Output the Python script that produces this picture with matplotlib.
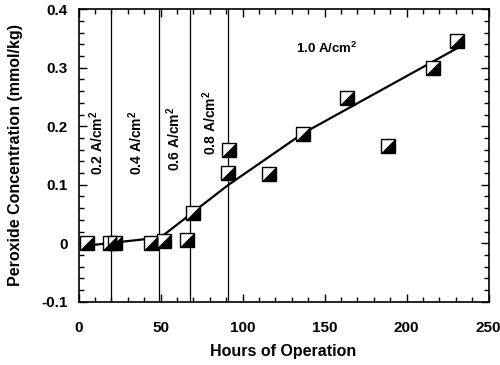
import matplotlib
matplotlib.use("Agg")
import matplotlib.pyplot as plt
from matplotlib.ticker import MultipleLocator

# measured points
hours = [5, 19, 22, 44, 52, 66, 70, 91, 92, 116, 137, 164, 189, 216, 231]
peroxide = [0.0, 0.0, 0.0, 0.0, 0.004, 0.005, 0.052, 0.12, 0.16, 0.118,
            0.187, 0.248, 0.167, 0.3, 0.345]

# fitted trend line
fit_hours = [5, 50, 91, 137, 232]
fit_peroxide = [-0.004, 0.01, 0.099, 0.188, 0.335]

# current density changes
step_hours = [20, 49, 68, 91]
step_labels = ["0.2", "0.4", "0.6", "0.8"]
label_x = [11, 35, 58, 80]
label_y = [0.172, 0.171, 0.179, 0.206]

plt.rcParams['font.family'] = ['Liberation Sans', 'DejaVu Sans']
plt.rcParams['font.weight'] = 'bold'
plt.rcParams['mathtext.fontset'] = 'custom'
plt.rcParams['mathtext.bf'] = 'Liberation Sans:bold'
plt.rcParams['mathtext.rm'] = 'Liberation Sans:bold'

fig = plt.figure(figsize=(5.0, 3.65), dpi=100)
ax = fig.add_axes([0.157, 0.173, 0.82, 0.802])

for xv in step_hours:
    ax.axvline(xv, color="black", linewidth=0.9, zorder=1)

ax.plot(fit_hours, fit_peroxide, color="black", linewidth=1.6, zorder=2)

tri = [(-1, -1), (1, -1), (1, 1), (-1, -1)]
ax.plot(hours, peroxide, linestyle="none", marker="s", markersize=9.5,
        mfc="white", mec="black", mew=1.0, zorder=3)
ax.plot(hours, peroxide, linestyle="none", marker=tri, markersize=9.5,
        mfc="black", mec="black", mew=0.5, zorder=4)

for lab, tx, ty in zip(step_labels, label_x, label_y):
    ax.text(tx, ty, lab + r" A/cm$^\mathbf{2}$", rotation=90, ha="center",
            va="center", fontsize=10, fontweight="bold")
ax.text(132.5, 0.333, r"1.0 A/cm$^\mathbf{2}$", ha="left", va="center",
        fontsize=9.5, fontweight="bold")

ax.set_xlim(0, 250)
ax.set_ylim(-0.1, 0.4)
ax.xaxis.set_major_locator(MultipleLocator(50))
ax.xaxis.set_minor_locator(MultipleLocator(10))
ax.yaxis.set_major_locator(MultipleLocator(0.1))
ax.yaxis.set_minor_locator(MultipleLocator(0.02))
ax.yaxis.set_major_formatter(plt.FuncFormatter(
    lambda v, pos: "0" if abs(v) < 1e-9 else "{:.1f}".format(v)))

ax.tick_params(which="both", direction="in", top=True, right=True,
               labelsize=11, width=1.0)
ax.tick_params(which="major", length=6)
ax.tick_params(which="minor", length=3.5)
ax.tick_params(axis="x", which="major", pad=14)
ax.tick_params(axis="y", which="major", pad=8)
for sp in ax.spines.values():
    sp.set_linewidth(1.2)

ax.set_xlabel("Hours of Operation", fontsize=11.5, fontweight="bold", labelpad=6)
ax.set_ylabel("Peroxide Concentration (mmol/kg)", fontsize=11.5,
              fontweight="bold", labelpad=13)

fig.savefig("out.png", dpi=100)
